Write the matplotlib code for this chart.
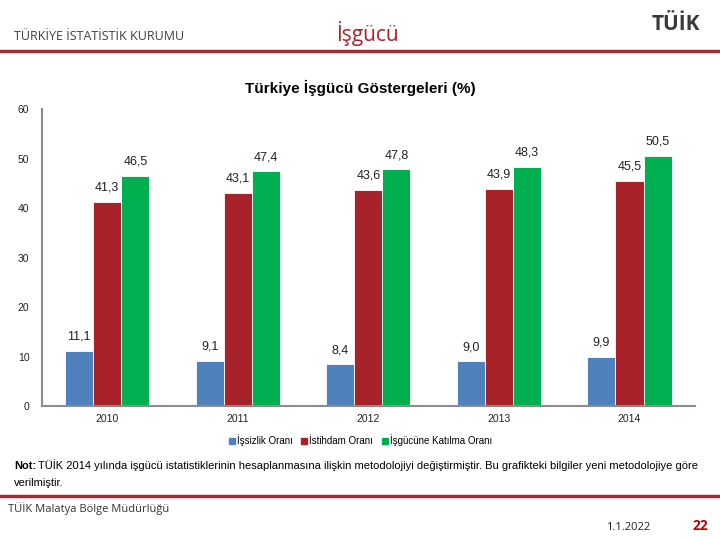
import numpy as np
import matplotlib.pyplot as plt
from matplotlib.lines import Line2D

# veriler
years = ['2010', '2011', '2012', '2013', '2014']
issizlik = [11.1, 9.1, 8.4, 9.0, 9.9]
istihdam = [41.3, 43.1, 43.6, 43.9, 45.5]
katilma = [46.5, 47.4, 47.8, 48.3, 50.5]
series_names = ['İşsizlik Oranı', 'İstihdam Oranı', 'İşgücüne Katılma Oranı']
colors = ['#4F81BD', '#A8222A', '#00B050']

plt.rcParams['font.family'] = ['Liberation Sans', 'DejaVu Sans']

fig = plt.figure(figsize=(7.2, 5.4), dpi=100)
ax = fig.add_axes([0.0583, 0.2481, 0.9067, 0.5500])

x = np.arange(len(years))
w = 0.215
for i, vals in enumerate([issizlik, istihdam, katilma]):
    pos = x + (i - 1) * w
    ax.bar(pos, vals, width=w, color=colors[i], edgecolor='white', linewidth=0.6)
    for p, v in zip(pos, vals):
        ax.annotate(f'{v:.1f}'.replace('.', ','), (p, v), xytext=(0, 6),
                    textcoords='offset points', ha='center', va='bottom',
                    fontsize=9, color='#222222')

ax.set_xlim(-0.5, 4.5)
ax.set_ylim(0, 60)
ax.set_yticks(range(0, 61, 10))
ax.set_xticks(x)
ax.set_xticklabels(years)
ax.tick_params(axis='both', labelsize=7.5, colors='#222222', length=0, pad=6)
ax.tick_params(axis='y', pad=9)
for s in ['top', 'right']:
    ax.spines[s].set_visible(False)
for s in ['left', 'bottom']:
    ax.spines[s].set_color('#8C8C8C')
    ax.spines[s].set_linewidth(1.5)

# lejant
handles = [Line2D([], [], marker='s', linestyle='', color=c, markersize=4) for c in colors]
fig.legend(handles, series_names, loc='center', bbox_to_anchor=(0.5, 1 - 440 / 540),
           ncol=3, frameon=False, fontsize=7, handletextpad=0.1, columnspacing=0.8,
           handlelength=0.8)

# başlık ve üst bilgi
fig.text(0.5, 1 - 88 / 540, 'Türkiye İşgücü Göstergeleri (%)', ha='center', va='center',
         fontsize=11, fontweight='bold')
fig.text(14 / 720, 1 - 37 / 540, 'TÜRKİYE İSTATİSTİK KURUMU', ha='left', va='center',
         fontsize=9, color='#404040', family='Open Sans')
fig.text(367 / 720, 1 - 33 / 540, 'İşgücü', ha='center', va='center',
         fontsize=15, color='#A8222A', family='Open Sans')
fig.text(676 / 720, 1 - 25 / 540, 'TÜİK', ha='center', va='center',
         fontsize=15, color='#3A3A3A', fontweight='bold', family='Open Sans')
fig.add_artist(Line2D([0, 1], [1 - 51 / 540] * 2, color='#9B2F35', linewidth=2.5))

# not
fig.text(14 / 720, 1 - 469 / 540, 'Not:', ha='left', va='baseline',
         fontsize=8, fontweight='bold')
fig.text(38 / 720, 1 - 469 / 540,
         'TÜİK 2014 yılında işgücü istatistiklerinin hesaplanmasına ilişkin '
         'metodolojiyi değiştirmiştir. Bu grafikteki bilgiler yeni metodolojiye göre',
         ha='left', va='baseline', fontsize=8)
fig.text(14 / 720, 1 - 486 / 540, 'verilmiştir.', ha='left', va='baseline', fontsize=8)

# alt bilgi
fig.add_artist(Line2D([0, 1], [1 - 496 / 540] * 2, color='#9B2F35', linewidth=2.5))
fig.text(8 / 720, 1 - 509 / 540, 'TÜİK Malatya Bölge Müdürlüğü', ha='left', va='center',
         fontsize=8, color='#333333', family='Open Sans')
fig.text(628 / 720, 1 - 527 / 540, '1.1.2022', ha='center', va='center',
         fontsize=8, color='#222222', family='Open Sans')
fig.text(700 / 720, 1 - 526 / 540, '22', ha='center', va='center',
         fontsize=10, color='#C00000', fontweight='bold', family='Open Sans')

fig.savefig('out.png', dpi=100)
